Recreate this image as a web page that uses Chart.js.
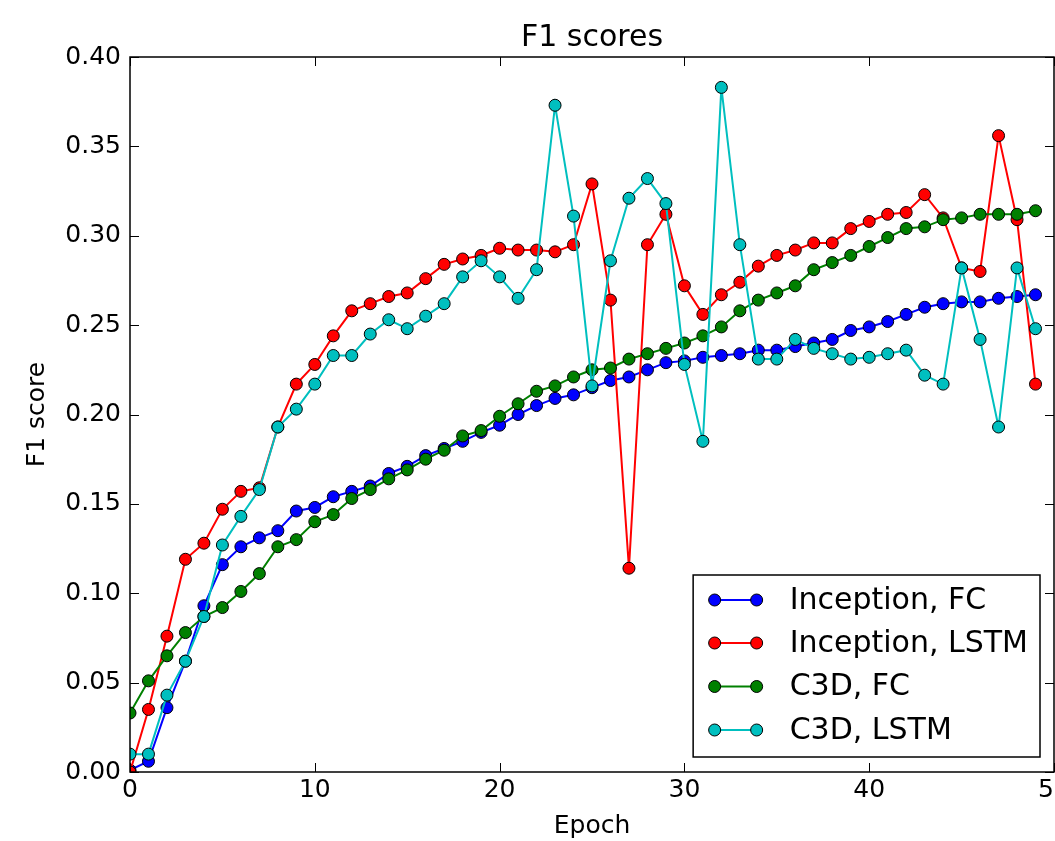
<!DOCTYPE html>
<html>
<head>
<meta charset="utf-8">
<script src="https://cdn.jsdelivr.net/npm/chart.js@4/dist/chart.umd.min.js"></script>
<style>
html, body { margin: 0; padding: 0; background: #fff; overflow: hidden; }
#wrap { width: 1100px; height: 841px; }
</style>
</head>
<body>
<div id="wrap"><canvas id="c" width="1100" height="841"></canvas></div>
<script>
const epochs = Array.from({length: 50}, (_, i) => i);

const seriesNames = ['Inception, FC', 'Inception, LSTM', 'C3D, FC', 'C3D, LSTM'];
const seriesColors = ['#0000ff', '#ff0000', '#008000', '#00bfbf'];

const inceptionFC = [0.001, 0.006, 0.036, 0.062, 0.093, 0.116, 0.126, 0.131, 0.135, 0.146,
  0.148, 0.154, 0.157, 0.160, 0.167, 0.171, 0.177, 0.181, 0.185, 0.190,
  0.194, 0.200, 0.205, 0.209, 0.211, 0.215, 0.219, 0.221, 0.225, 0.229,
  0.230, 0.232, 0.233, 0.234, 0.236, 0.236, 0.238, 0.240, 0.242, 0.247,
  0.249, 0.252, 0.256, 0.260, 0.262, 0.263, 0.263, 0.265, 0.266, 0.267];

const inceptionLSTM = [0.000, 0.035, 0.076, 0.119, 0.128, 0.147, 0.157, 0.159, 0.193, 0.217,
  0.228, 0.244, 0.258, 0.262, 0.266, 0.268, 0.276, 0.284, 0.287, 0.289,
  0.293, 0.292, 0.292, 0.291, 0.295, 0.329, 0.264, 0.114, 0.295, 0.312,
  0.272, 0.256, 0.267, 0.274, 0.283, 0.289, 0.292, 0.296, 0.296, 0.304,
  0.308, 0.312, 0.313, 0.323, 0.310, 0.282, 0.280, 0.356, 0.309, 0.217];

const c3dFC = [0.033, 0.051, 0.065, 0.078, 0.087, 0.092, 0.101, 0.111, 0.126, 0.130,
  0.140, 0.144, 0.153, 0.158, 0.164, 0.169, 0.175, 0.180, 0.188, 0.191,
  0.199, 0.206, 0.213, 0.216, 0.221, 0.225, 0.226, 0.231, 0.234, 0.237,
  0.240, 0.244, 0.249, 0.258, 0.264, 0.268, 0.272, 0.281, 0.285, 0.289,
  0.294, 0.299, 0.304, 0.305, 0.309, 0.310, 0.312, 0.312, 0.312, 0.314];

const c3dLSTM = [0.010, 0.010, 0.043, 0.062, 0.087, 0.127, 0.143, 0.158, 0.193, 0.203,
  0.217, 0.233, 0.233, 0.245, 0.253, 0.248, 0.255, 0.262, 0.277, 0.286,
  0.277, 0.265, 0.281, 0.373, 0.311, 0.216, 0.286, 0.321, 0.332, 0.318,
  0.228, 0.185, 0.383, 0.295, 0.231, 0.231, 0.242, 0.237, 0.234, 0.231,
  0.232, 0.234, 0.236, 0.222, 0.217, 0.282, 0.242, 0.193, 0.282, 0.248];

const xTicks = [0, 10, 20, 30, 40, 50];
const yTicks = [0.00, 0.05, 0.10, 0.15, 0.20, 0.25, 0.30, 0.35, 0.40];

const allSeries = [inceptionFC, inceptionLSTM, c3dFC, c3dLSTM];
const FONT = "'DejaVu Sans', 'Liberation Sans', sans-serif";

const datasets = allSeries.map((vals, k) => ({
  label: seriesNames[k],
  data: epochs.map((e, i) => ({x: e, y: vals[i]})),
  borderColor: seriesColors[k],
  backgroundColor: seriesColors[k],
  pointBackgroundColor: seriesColors[k],
  pointBorderColor: '#000',
  pointBorderWidth: 1,
  pointRadius: 6,
  pointHoverRadius: 6,
  borderWidth: 2,
  tension: 0,
  fill: false,
  clip: 0,
  order: 3 - k
}));

const framePlugin = {
  id: 'frame',
  afterDatasetsDraw(chart) {
    const {ctx, chartArea: a, scales: {x, y}} = chart;
    ctx.save();
    // ticks (inward, all four sides)
    ctx.strokeStyle = '#000';
    ctx.lineWidth = 1;
    const tl = 9;
    ctx.beginPath();
    xTicks.forEach(v => {
      const px = Math.round(x.getPixelForValue(v)) + 0.5;
      ctx.moveTo(px, a.bottom); ctx.lineTo(px, a.bottom - tl);
      ctx.moveTo(px, a.top); ctx.lineTo(px, a.top + tl);
    });
    yTicks.forEach(v => {
      const py = Math.round(y.getPixelForValue(v)) + 0.5;
      ctx.moveTo(a.left, py); ctx.lineTo(a.left + tl, py);
      ctx.moveTo(a.right, py); ctx.lineTo(a.right - tl, py);
    });
    ctx.stroke();
    // frame
    ctx.lineWidth = 1.5;
    ctx.strokeRect(a.left, a.top, a.right - a.left, a.bottom - a.top);

    // legend
    ctx.font = '30px ' + FONT;
    let maxW = 0;
    chart.data.datasets.forEach(d => { maxW = Math.max(maxW, ctx.measureText(d.label).width); });
    const right = a.right - 14, bottom = a.bottom - 15;
    const boxH = 182;
    const boxW = 21.5 + 42 + 33 + maxW + 12;
    const left = right - boxW, top = bottom - boxH;
    ctx.fillStyle = '#fff';
    ctx.fillRect(left, top, boxW, boxH);
    ctx.lineWidth = 1.5;
    ctx.strokeStyle = '#000';
    ctx.strokeRect(left, top, boxW, boxH);
    const rowY = [25, 68, 111.5, 155];
    chart.data.datasets.forEach((d, i) => {
      const cy = top + rowY[i];
      const x1 = left + 21.5, x2 = left + 63.5;
      ctx.strokeStyle = d.borderColor;
      ctx.lineWidth = 2;
      ctx.beginPath(); ctx.moveTo(x1, cy); ctx.lineTo(x2, cy); ctx.stroke();
      [x1, x2].forEach(mx => {
        ctx.beginPath();
        ctx.arc(mx, cy, 6, 0, Math.PI * 2);
        ctx.fillStyle = d.borderColor;
        ctx.fill();
        ctx.lineWidth = 1;
        ctx.strokeStyle = '#000';
        ctx.stroke();
      });
      ctx.fillStyle = '#000';
      ctx.textAlign = 'left';
      ctx.textBaseline = 'middle';
      ctx.fillText(d.label, left + 96.5, cy + 1);
    });
    ctx.restore();
  }
};

new Chart(document.getElementById('c'), {
  type: 'line',
  data: { datasets },
  plugins: [framePlugin],
  options: {
    responsive: false,
    animation: false,
    devicePixelRatio: 1,
    layout: { padding: { left: 0, right: 46, top: 0, bottom: 0 } },
    plugins: {
      legend: { display: false },
      tooltip: { enabled: false },
      title: {
        display: true,
        text: 'F1 scores',
        fullSize: false,
        color: '#000',
        font: { family: FONT, size: 30, weight: 'normal' },
        padding: { top: 20, bottom: 1 }
      }
    },
    scales: {
      x: {
        type: 'linear',
        min: 0, max: 50,
        afterFit(s) { s.height = 69; },
        afterBuildTicks(s) { s.ticks = xTicks.map(v => ({value: v})); },
        grid: { display: false, drawTicks: false },
        border: { display: false },
        ticks: {
          color: '#000',
          padding: 3,
          maxRotation: 0,
          font: { family: FONT, size: 25 },
          callback: v => String(v)
        },
        title: {
          display: true, text: 'Epoch', color: '#000',
          font: { family: FONT, size: 25 },
          padding: { top: 0, bottom: 0 }
        }
      },
      y: {
        type: 'linear',
        min: 0, max: 0.4,
        afterFit(s) { s.width = 130; },
        afterBuildTicks(s) { s.ticks = yTicks.map(v => ({value: v})); },
        grid: { display: false, drawTicks: false },
        border: { display: false },
        ticks: {
          color: '#000',
          padding: 9,
          font: { family: FONT, size: 25 },
          callback: v => Number(v).toFixed(2)
        },
        title: {
          display: true, text: 'F1 score', color: '#000',
          font: { family: FONT, size: 25 },
          padding: { top: 22, bottom: 0 }
        }
      }
    }
  }
});
</script>
</body>
</html>
